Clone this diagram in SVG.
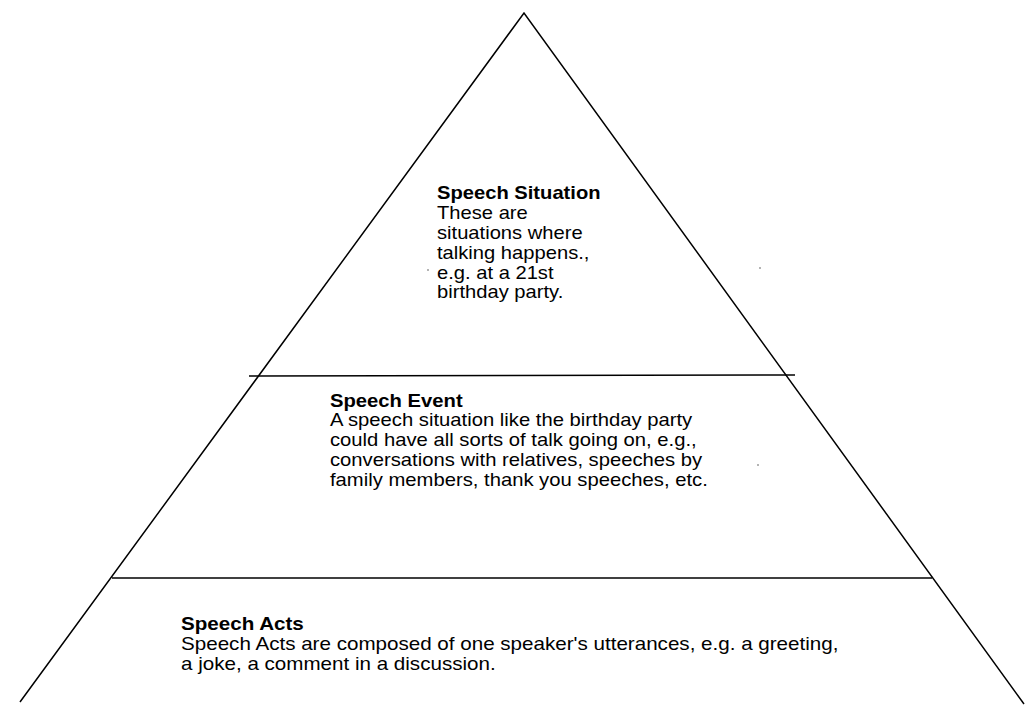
<svg xmlns="http://www.w3.org/2000/svg" width="1025" height="710" viewBox="0 0 1025 710">
<style>
.ln{stroke:#000;stroke-width:1.5;fill:none}
.t{font-family:"Liberation Sans",Arial,sans-serif;font-size:18px;fill:#000}
.b{font-weight:bold}
</style>
<rect width="1025" height="710" fill="#fff"/>
<g id="connectors">
<polyline class="ln" points="20,702 524,13 1024,704"/>
<line class="ln" x1="249" y1="376" x2="795" y2="375"/>
<line class="ln" x1="112" y1="578" x2="932" y2="578"/>
</g>
<g id="speech-situation" transform="translate(437,0) scale(1.12,1)">
<text class="t"><tspan class="b" x="0" y="199">Speech Situation</tspan><tspan x="0" y="219">These are</tspan><tspan x="0" y="239">situations where</tspan><tspan x="0" y="259">talking happens.,</tspan><tspan x="0" y="279">e.g. at a 21st</tspan><tspan x="0" y="298">birthday party.</tspan></text>
</g>
<g id="speech-event" transform="translate(330,0) scale(1.125,1)">
<text class="t"><tspan class="b" x="0" y="407">Speech Event</tspan><tspan x="0" y="426">A speech situation like the birthday party</tspan><tspan x="0" y="446">could have all sorts of talk going on, e.g.,</tspan><tspan x="0" y="466">conversations with relatives, speeches by</tspan><tspan x="0" y="486">family members, thank you speeches, etc.</tspan></text>
</g>
<g id="speech-acts" transform="translate(181,0) scale(1.145,1)">
<text class="t"><tspan class="b" x="0" y="630">Speech Acts</tspan><tspan x="0" y="650">Speech Acts are composed of one speaker's utterances, e.g. a greeting,</tspan><tspan x="0" y="670">a joke, a comment in a discussion.</tspan></text>
</g>
<g id="specks" fill="#555">
<circle cx="428" cy="270" r="0.8"/>
<circle cx="760" cy="268" r="0.8"/>
<circle cx="758" cy="465" r="0.8"/>
</g>
</svg>
